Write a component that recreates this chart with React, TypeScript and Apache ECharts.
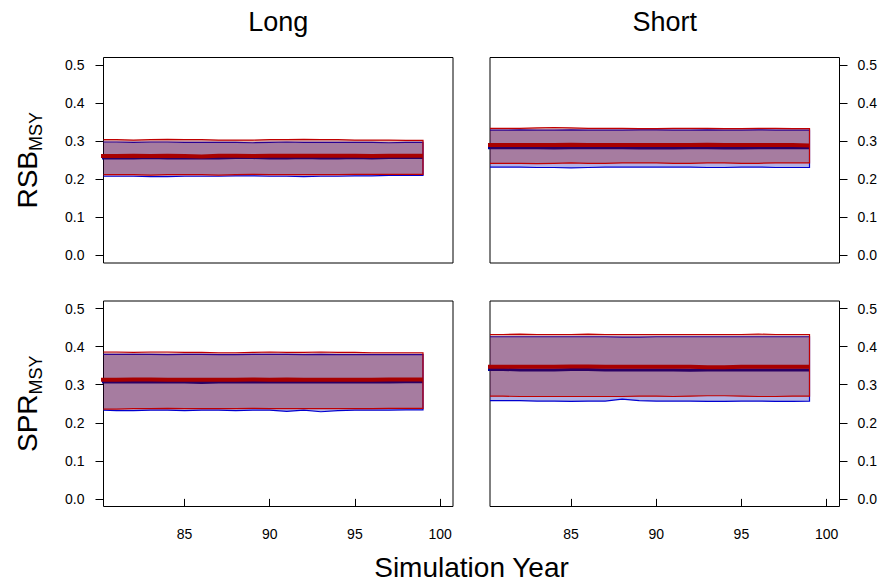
import React, { useEffect, useRef } from "react";
import * as echarts from "echarts";

// ---------- data ----------
const years = [80, 81, 82, 83, 84, 85, 86, 87, 88, 89, 90, 91, 92, 93, 94, 95, 96, 97, 98, 99];
const xTicks = [85, 90, 95, 100];
const yTicks = [0, 0.1, 0.2, 0.3, 0.4, 0.5];
const columnTitles = ["Long", "Short"];
const rowLabels = ["RSB", "SPR"];
const rowSub = "MSY";
const xTitle = "Simulation Year";

// RSB, Long
const rsbLongBlueLo = [0.208, 0.208, 0.208, 0.207, 0.207, 0.208, 0.208, 0.208, 0.209, 0.209, 0.208, 0.208, 0.207, 0.208, 0.208, 0.209, 0.209, 0.21, 0.21, 0.21];
const rsbLongBlueHi = [0.298, 0.298, 0.297, 0.298, 0.298, 0.297, 0.297, 0.297, 0.297, 0.296, 0.297, 0.298, 0.297, 0.297, 0.297, 0.297, 0.297, 0.296, 0.297, 0.297];
const rsbLongBlueMed = [0.256, 0.256, 0.256, 0.257, 0.256, 0.256, 0.256, 0.256, 0.257, 0.257, 0.256, 0.256, 0.257, 0.256, 0.256, 0.257, 0.256, 0.257, 0.257, 0.257];
const rsbLongRedLo = [0.212, 0.212, 0.212, 0.211, 0.212, 0.212, 0.212, 0.211, 0.212, 0.213, 0.212, 0.212, 0.212, 0.212, 0.212, 0.213, 0.213, 0.213, 0.213, 0.213];
const rsbLongRedHi = [0.304, 0.304, 0.303, 0.304, 0.305, 0.304, 0.304, 0.303, 0.303, 0.303, 0.304, 0.304, 0.305, 0.304, 0.304, 0.303, 0.303, 0.303, 0.302, 0.302];
const rsbLongRedMed = [0.261, 0.261, 0.262, 0.261, 0.262, 0.261, 0.26, 0.262, 0.262, 0.261, 0.262, 0.262, 0.262, 0.262, 0.262, 0.262, 0.261, 0.262, 0.262, 0.262];

// RSB, Short
const rsbShortBlueLo = [0.232, 0.232, 0.232, 0.231, 0.231, 0.23, 0.231, 0.232, 0.232, 0.232, 0.232, 0.232, 0.232, 0.231, 0.231, 0.232, 0.232, 0.231, 0.231, 0.231];
const rsbShortBlueHi = [0.329, 0.329, 0.33, 0.329, 0.329, 0.33, 0.329, 0.329, 0.329, 0.33, 0.33, 0.329, 0.329, 0.33, 0.329, 0.329, 0.33, 0.329, 0.329, 0.329];
const rsbShortBlueMed = [0.283, 0.283, 0.283, 0.283, 0.282, 0.283, 0.283, 0.283, 0.283, 0.282, 0.282, 0.282, 0.283, 0.283, 0.282, 0.282, 0.283, 0.283, 0.283, 0.283];
const rsbShortRedLo = [0.242, 0.242, 0.242, 0.241, 0.242, 0.243, 0.242, 0.242, 0.243, 0.243, 0.243, 0.242, 0.242, 0.243, 0.243, 0.242, 0.242, 0.243, 0.243, 0.243];
const rsbShortRedHi = [0.334, 0.334, 0.334, 0.335, 0.336, 0.335, 0.334, 0.334, 0.334, 0.333, 0.333, 0.334, 0.334, 0.334, 0.333, 0.333, 0.334, 0.334, 0.333, 0.333];
const rsbShortRedMed = [0.29, 0.29, 0.29, 0.29, 0.29, 0.291, 0.29, 0.29, 0.29, 0.29, 0.29, 0.29, 0.29, 0.291, 0.29, 0.29, 0.29, 0.29, 0.29, 0.289];

// SPR, Long
const sprLongBlueLo = [0.233, 0.232, 0.232, 0.233, 0.233, 0.232, 0.233, 0.233, 0.232, 0.233, 0.233, 0.23, 0.233, 0.229, 0.232, 0.233, 0.233, 0.233, 0.234, 0.234];
const sprLongBlueHi = [0.38, 0.38, 0.38, 0.38, 0.379, 0.38, 0.38, 0.379, 0.379, 0.38, 0.38, 0.38, 0.379, 0.38, 0.379, 0.379, 0.379, 0.379, 0.379, 0.379];
const sprLongBlueMed = [0.307, 0.307, 0.307, 0.307, 0.307, 0.307, 0.306, 0.307, 0.307, 0.307, 0.307, 0.307, 0.307, 0.307, 0.307, 0.307, 0.307, 0.307, 0.308, 0.308];
const sprLongRedLo = [0.236, 0.236, 0.237, 0.237, 0.238, 0.237, 0.237, 0.237, 0.237, 0.238, 0.237, 0.237, 0.237, 0.237, 0.237, 0.237, 0.237, 0.238, 0.238, 0.238];
const sprLongRedHi = [0.386, 0.386, 0.385, 0.386, 0.386, 0.385, 0.385, 0.384, 0.384, 0.385, 0.386, 0.385, 0.385, 0.386, 0.385, 0.385, 0.384, 0.384, 0.384, 0.384];
const sprLongRedMed = [0.313, 0.313, 0.314, 0.314, 0.313, 0.313, 0.313, 0.313, 0.313, 0.314, 0.313, 0.314, 0.313, 0.313, 0.313, 0.313, 0.313, 0.314, 0.314, 0.314];

// SPR, Short
const sprShortBlueLo = [0.258, 0.258, 0.258, 0.257, 0.257, 0.256, 0.257, 0.257, 0.262, 0.258, 0.257, 0.257, 0.257, 0.256, 0.256, 0.257, 0.257, 0.256, 0.256, 0.257];
const sprShortBlueHi = [0.426, 0.426, 0.426, 0.426, 0.426, 0.426, 0.426, 0.426, 0.425, 0.425, 0.426, 0.426, 0.426, 0.426, 0.426, 0.426, 0.426, 0.426, 0.426, 0.426];
const sprShortBlueMed = [0.34, 0.34, 0.339, 0.339, 0.339, 0.34, 0.34, 0.339, 0.339, 0.339, 0.339, 0.339, 0.338, 0.339, 0.339, 0.339, 0.339, 0.339, 0.339, 0.339];
const sprShortRedLo = [0.27, 0.27, 0.269, 0.269, 0.269, 0.269, 0.269, 0.269, 0.269, 0.27, 0.27, 0.269, 0.27, 0.271, 0.271, 0.27, 0.269, 0.269, 0.27, 0.27];
const sprShortRedHi = [0.432, 0.432, 0.433, 0.432, 0.432, 0.432, 0.433, 0.432, 0.432, 0.432, 0.432, 0.432, 0.432, 0.432, 0.432, 0.432, 0.433, 0.432, 0.432, 0.432];
const sprShortRedMed = [0.347, 0.347, 0.347, 0.347, 0.347, 0.348, 0.348, 0.347, 0.347, 0.347, 0.347, 0.347, 0.347, 0.346, 0.346, 0.347, 0.347, 0.347, 0.347, 0.347];

// ---------- layout / style ----------
const FONT = "'Liberation Sans', Arial, sans-serif";
const BLUE_FILL = "rgba(0,0,170,0.3)";
const BLUE_LINE = "#0000D0";
const BLUE_MED = "#000090";
const RED_FILL = "rgba(139,0,0,0.3)";
const RED_LINE = "#C00000";
const RED_MED = "#A80000";

const panels = [
  { row: 0, col: 0, blue: [rsbLongBlueLo, rsbLongBlueHi, rsbLongBlueMed], red: [rsbLongRedLo, rsbLongRedHi, rsbLongRedMed] },
  { row: 0, col: 1, blue: [rsbShortBlueLo, rsbShortBlueHi, rsbShortBlueMed], red: [rsbShortRedLo, rsbShortRedHi, rsbShortRedMed] },
  { row: 1, col: 0, blue: [sprLongBlueLo, sprLongBlueHi, sprLongBlueMed], red: [sprLongRedLo, sprLongRedHi, sprLongRedMed] },
  { row: 1, col: 1, blue: [sprShortBlueLo, sprShortBlueHi, sprShortBlueMed], red: [sprShortRedLo, sprShortRedHi, sprShortRedMed] },
];

const colLeft = [103.5, 490];
const colWidth = 349.5;
const rowTop = [57.5, 301];
const rowHeight = [205.5, 205.5];

function bandSeries(gi: number, lo: number[], hi: number[], stroke: string, fill: string, z: number) {
  return {
    type: "custom",
    xAxisIndex: gi,
    yAxisIndex: gi,
    z,
    silent: true,
    data: years.map((x, i) => [x, lo[i], hi[i]]),
    encode: { x: 0, y: [1, 2] },
    renderItem: (params: any, api: any) => {
      if (params.dataIndex !== 0) return null;
      const cs = params.coordSys;
      const clampX = (p: number[]) => [Math.max(cs.x, Math.min(cs.x + cs.width, p[0])), p[1]];
      const up = years.map((x, i) => clampX(api.coord([x, hi[i]])));
      const dn = years.map((x, i) => clampX(api.coord([x, lo[i]]))).reverse();
      const pts = up.concat(dn);
      return {
        type: "group",
        children: [
          { type: "polygon", shape: { points: pts }, style: { fill, stroke: null } },
          { type: "polyline", shape: { points: pts }, style: { fill: null, stroke, lineWidth: 1.2 } },
        ],
      };
    },
  };
}

function medSeries(gi: number, med: number[], color: string, width: number, z: number) {
  return {
    type: "line",
    xAxisIndex: gi,
    yAxisIndex: gi,
    z,
    silent: true,
    showSymbol: false,
    symbol: "none",
    clip: true,
    data: years.map((x, i) => [x, med[i]]),
    lineStyle: { color, width },
  };
}

export default function App() {
  const ref = useRef<HTMLDivElement>(null);
  useEffect(() => {
    if (!ref.current) return;
    const chart = echarts.init(ref.current, null, { renderer: "svg" });
    const grids: any[] = [];
    const xAxes: any[] = [];
    const yAxes: any[] = [];
    const series: any[] = [];
    panels.forEach((p, gi) => {
      grids.push({
        left: colLeft[p.col],
        top: rowTop[p.row],
        width: colWidth,
        height: rowHeight[p.row],
        show: true,
        borderColor: "#000",
        borderWidth: 1,
        backgroundColor: "transparent",
        containLabel: false,
      });
      const bottom = p.row === 1;
      xAxes.push({
        type: "value",
        gridIndex: gi,
        min: 80.24,
        max: 100.76,
        splitLine: { show: false },
        axisLine: { show: false },
        axisTick: { show: bottom, length: 8, lineStyle: { color: "#000" }, customValues: xTicks },
        axisLabel: {
          show: bottom,
          customValues: xTicks,
          color: "#000",
          fontSize: 14,
          fontFamily: FONT,
          margin: 20,
        },
      });
      yAxes.push({
        type: "value",
        gridIndex: gi,
        min: -0.02,
        max: 0.52,
        position: p.col === 0 ? "left" : "right",
        splitLine: { show: false },
        axisLine: { show: false },
        axisTick: { show: true, length: 8, lineStyle: { color: "#000" }, customValues: yTicks },
        axisLabel: {
          show: true,
          customValues: yTicks,
          formatter: (v: number) => v.toFixed(1),
          color: "#000",
          fontSize: 14,
          fontFamily: FONT,
          margin: p.col === 0 ? 19 : 18,
        },
      });
      series.push(bandSeries(gi, p.blue[0], p.blue[1], BLUE_LINE, BLUE_FILL, 1));
      series.push(medSeries(gi, p.blue[2], BLUE_MED, 3, 2));
      series.push(bandSeries(gi, p.red[0], p.red[1], RED_LINE, RED_FILL, 3));
      series.push(medSeries(gi, p.red[2], RED_MED, 4, 4));
    });

    const graphics: any[] = [];
    columnTitles.forEach((t, c) => {
      graphics.push({
        type: "text",
        x: colLeft[c] + colWidth / 2,
        y: 22,
        style: { text: t, fontSize: 27, fontFamily: FONT, fill: "#000", align: "center", verticalAlign: "middle" },
      });
    });
    rowLabels.forEach((t, r) => {
      graphics.push({
        type: "text",
        x: 27,
        y: rowTop[r] + rowHeight[r] / 2,
        rotation: Math.PI / 2,
        style: {
          text: `{a|${t}}{b|${rowSub}}`,
          align: "center",
          verticalAlign: "middle",
          fill: "#000",
          rich: {
            a: { fontSize: 28, lineHeight: 36, fontFamily: FONT, fill: "#000" },
            b: { fontSize: 18, lineHeight: 18, padding: [18, 0, 0, 0], fontFamily: FONT, fill: "#000" },
          },
        },
      });
    });
    graphics.push({
      type: "text",
      x: (colLeft[0] + colLeft[1] + colWidth) / 2,
      y: 567,
      style: { text: xTitle, fontSize: 28, fontFamily: FONT, fill: "#000", align: "center", verticalAlign: "middle" },
    });

    chart.setOption({
      animation: false,
      backgroundColor: "#fff",
      grid: grids,
      xAxis: xAxes,
      yAxis: yAxes,
      series,
      graphic: graphics,
    });
    return () => chart.dispose();
  }, []);
  return <div ref={ref} style={{ position: "absolute", left: 0, top: 0, width: 883, height: 581 }} />;
}
